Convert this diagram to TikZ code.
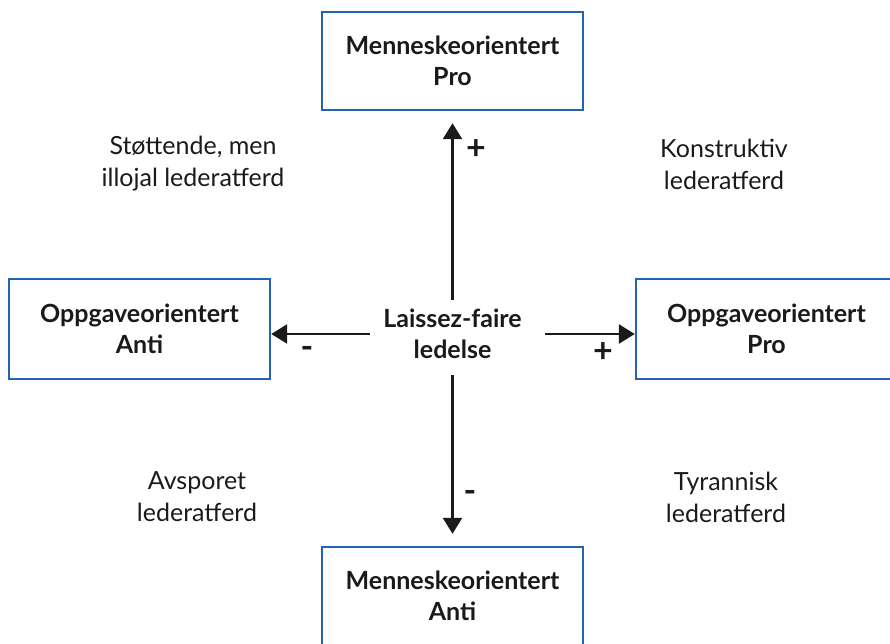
\documentclass[tikz,border=0pt]{standalone}
\usepackage{fontspec}
\setmainfont{Lato}
\usetikzlibrary{arrows.meta,positioning}
\definecolor{boxblue}{HTML}{2462B4}
\definecolor{ink}{HTML}{1A1A1A}
\tikzset{
  rolle/.style = {draw = boxblue, line width = 2.4pt, minimum width = 261pt,
    minimum height = 98pt, align = center, text = ink,
    font = \bfseries\fontsize{25}{31}\selectfont},
  atferd/.style = {align = center, text = ink, font = \fontsize{25}{32}\selectfont},
  fortegn/.style = {text = ink, font = \bfseries\fontsize{34}{34}\selectfont, inner sep = 0pt},
  pil/.style = {draw = ink, line width = 2.6pt,
    -{Triangle[length = 16pt, width = 19pt]}, shorten > = 12pt}
}
\begin{document}
\begin{tikzpicture}[x = 1pt, y = -1pt]
  \useasboundingbox (0, 0) rectangle (890, 643);
  \clip (0, 0) rectangle (890, 643);
  % the four poles
  \node [rolle] (mpro) at (452.5, 61) {Menneskeorientert\\Pro};
  \node [rolle] (manti) at (452.5, 596) {Menneskeorientert\\Anti};
  \node [rolle, minimum height = 100pt] (oanti) at (139.5, 329) {Oppgaveorientert\\Anti};
  \node [rolle, minimum height = 100pt] (opro) at (766.5, 329) {Oppgaveorientert\\Pro};
  % centre
  \node [atferd, font = \bfseries\fontsize{25}{31}\selectfont, minimum width = 175pt,
    minimum height = 90pt] (lf) at (452.5, 334) {Laissez-faire\\ledelse};
  \draw [pil, shorten < = -11pt] (lf.north) -- (mpro.south);
  \draw [pil, shorten < = -4pt] (lf.south) -- (manti.north);
  \draw [pil, shorten > = 0pt, shorten < = -5pt] (lf.west) -- (lf.west -| oanti.east);
  \draw [pil, shorten > = 0pt, shorten < = 5pt] (lf.east) -- (lf.east -| opro.west);
  \node [fortegn] (pluss1) at (476, 150) {+};
  \node [fortegn] (minus1) at (307, 352) {-};
  \node [fortegn] (pluss2) at (603, 353) {+};
  \node [fortegn] (minus2) at (470, 496) {-};
  % the four kinds of behaviour
  \node [atferd] (stott) at (193, 164) {Støttende, men\\illojal lederatferd};
  \node [atferd] (konst) at (724, 164) {Konstruktiv\\lederatferd};
  \node [atferd] (avsp) at (197, 497) {Avsporet\\lederatferd};
  \node [atferd] (tyr) at (726, 497) {Tyrannisk\\lederatferd};
\end{tikzpicture}
\end{document}
